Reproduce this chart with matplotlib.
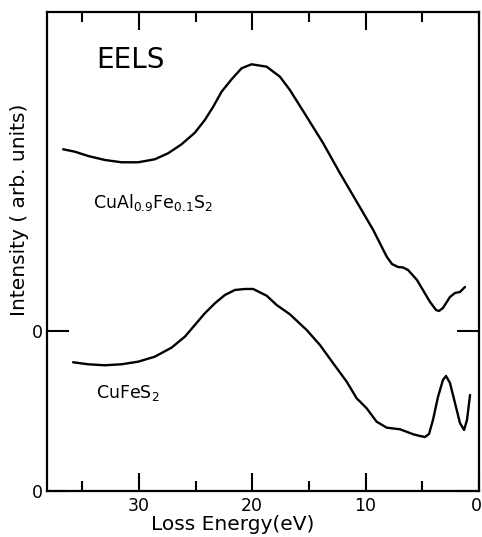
import matplotlib
matplotlib.use("Agg")
import matplotlib.pyplot as plt
import matplotlib.transforms as mtransforms

# Loss energy (eV) and intensity (arb. units)
energy_al = [36.68, 35.65, 34.47, 33.0, 31.53, 30.06, 28.59, 27.42, 26.23, 25.06,
             24.18, 23.44, 22.70, 21.82, 20.94, 20.06, 18.73, 17.56, 16.68, 15.20,
             13.74, 12.26, 10.79, 9.33, 8.14, 7.68, 7.15, 6.71, 6.26, 5.47,
             4.32, 3.79, 3.53, 3.18, 2.56, 2.12, 1.68, 1.24]
intensity_al = [341.7, 339.3, 335, 331, 328.7, 328.7, 331.7, 337.7, 346.7, 358.3,
                371, 384.3, 399.3, 411.7, 422.7, 426.7, 424.3, 414.3, 401, 374.3,
                347.7, 317.7, 289.3, 261, 234.3, 227, 224, 223.5, 221, 211,
                189, 181, 180, 183, 194, 198, 199, 204]

energy_fe = [35.80, 34.47, 33.0, 31.53, 30.06, 28.59, 27.12, 25.94, 25.06, 24.18,
             23.29, 22.41, 21.53, 20.65, 19.92, 18.73, 17.85, 16.68, 15.20, 14.03,
             12.86, 11.67, 10.79, 9.91, 9.03, 8.14, 6.97, 5.80, 5.21, 4.76,
             4.41, 4.06, 3.62, 3.18, 2.91, 2.56, 2.12, 1.68, 1.32, 1.06, 0.79]
intensity_fe = [128.7, 126.7, 125.7, 126.7, 129.3, 134.3, 143.3, 154.3, 166, 177.7,
                187.7, 196, 201, 202, 202, 195.3, 186, 176.7, 161, 146,
                127.7, 109.3, 92.7, 82.7, 69.3, 63.3, 61.7, 56.7, 55, 54,
                57, 71, 94, 111, 115, 108, 88, 68, 61, 71, 96]

upper_zero = 160
x_major = [30, 20, 10, 0]
x_minor = [35, 25, 15, 5]

fig = plt.figure(figsize=(4.82, 5.37), dpi=100)
ax = fig.add_axes([0.0975, 0.0857, 0.8963, 0.892])

for xs, ys in [(energy_al, intensity_al), (energy_fe, intensity_fe)]:
    ax.plot(xs, ys, color="black", lw=1.7, solid_joinstyle="round",
            solid_capstyle="round")

ax.set_xlim(38.1, 0)
ax.set_ylim(0, 479)

ax.set_xticks(x_major)
ax.set_xticklabels([str(v) for v in x_major], fontsize=12.5)
ax.set_xticks(x_minor, minor=True)
ax.set_yticks([0, upper_zero])
ax.set_yticklabels(["0", "0"], fontsize=12.5)

ax.tick_params(axis="x", which="major", direction="in", top=True, length=13, width=1.5, pad=4)
ax.tick_params(axis="x", which="minor", direction="in", top=True, length=7, width=1.5)
ax.tick_params(axis="y", direction="in", right=True, length=16, width=1.5, pad=3)

# nudge the "0" at the right edge so it stays inside the picture
last = ax.get_xticklabels()[-1]
last.set_transform(last.get_transform() +
                   mtransforms.ScaledTranslation(-3 / 100, 0, fig.dpi_scale_trans))

for s in ax.spines.values():
    s.set_linewidth(1.6)

fig.text(233 / 482, 1 - 524 / 537, "Loss Energy(eV)", ha="center", va="center",
         fontsize=14.5)
fig.text(20 / 482, 1 - 210 / 537, "Intensity ( arb. units)", rotation=90,
         ha="center", va="center", fontsize=14.5)

ax.text(33.8, 431, "EELS", fontsize=20, ha="left", va="center")
ax.text(34.0, 288, r"CuAl$_{0.9}$Fe$_{0.1}$S$_2$", fontsize=12.5, ha="left", va="center")
ax.text(33.8, 98, r"CuFeS$_2$", fontsize=12.5, ha="left", va="center")

fig.savefig("out.png", dpi=100)
